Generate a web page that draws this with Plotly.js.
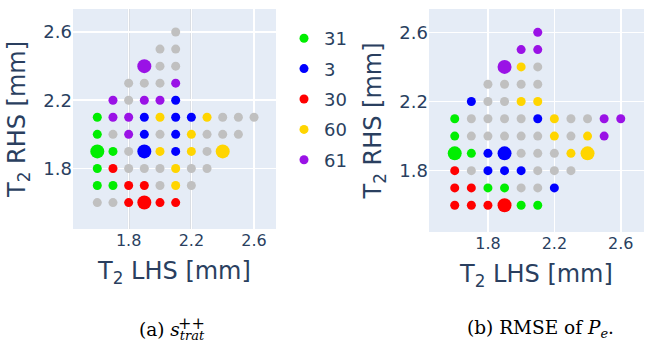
<!DOCTYPE html>
<html>
<head>
<meta charset="utf-8">
<script src="https://cdn.plot.ly/plotly-3.0.1.min.js"></script>
<style>html,body{margin:0;padding:0;background:#fff;}#chart{width:647px;height:344px;}</style>
</head>
<body>
<div id="chart"></div>
<script>
// ---- data: left panel (a) ----
var groupNames = ['31', '3', '30', '60', '61'];
var groupColors = ['#00ee00', '#0000ff', '#ff0000', '#ffd500', '#9a12e6'];
var otherColor = '#c0c0c0';

var aX31 = [1.6, 1.6, 1.7, 1.6, 1.6, 1.7];
var aY31 = [2.1, 2.0, 1.9, 1.8, 1.7, 1.7];
var aX3 = [2.1, 1.9, 2.1, 2.2, 1.9, 2.1, 2.1];
var aY3 = [2.2, 2.1, 2.1, 2.1, 2.0, 2.0, 1.9];
var aX30 = [1.7, 1.8, 1.9, 1.8, 2.0, 2.1];
var aY30 = [1.8, 1.7, 1.7, 1.6, 1.6, 1.6];
var aX60 = [2.0, 2.3, 2.2, 2.0, 2.2, 2.1, 2.1];
var aY60 = [2.1, 2.1, 2.0, 1.9, 1.9, 1.8, 1.7];
var aX61 = [2.1, 1.7, 1.9, 2.0, 1.7, 1.8, 1.8];
var aY61 = [2.3, 2.2, 2.2, 2.2, 2.1, 2.1, 2.0];
var aXOther = [2.1, 2.0, 2.1, 2.0, 2.1, 1.8, 1.9, 2.0, 1.8, 2.4, 2.5, 2.6, 1.7, 2.0, 2.3, 2.4, 2.5, 1.8, 2.3, 1.8, 1.9, 2.0, 2.2, 2.3, 2.0, 2.2, 1.6, 1.7];
var aYOther = [2.6, 2.5, 2.5, 2.4, 2.4, 2.3, 2.3, 2.3, 2.2, 2.1, 2.1, 2.1, 2.0, 2.0, 2.0, 2.0, 2.0, 1.9, 1.9, 1.8, 1.8, 1.8, 1.8, 1.8, 1.7, 1.7, 1.6, 1.6];
// group centres (large markers), order = groupNames
var aXCentre = [1.6, 1.9, 1.9, 2.4, 1.9];
var aYCentre = [1.9, 1.9, 1.6, 1.9, 2.4];

// ---- data: right panel (b) ----
var bX31 = [1.6, 1.6, 1.7, 1.8, 1.9, 2.0, 2.1];
var bY31 = [2.1, 2.0, 1.9, 1.7, 1.7, 1.6, 1.6];
var bX3 = [1.7, 2.1, 1.8, 1.8, 1.9, 2.0, 2.2];
var bY3 = [2.2, 2.1, 1.9, 1.8, 1.8, 1.8, 1.7];
var bX30 = [1.6, 1.6, 1.7, 1.6, 1.7, 1.8];
var bY30 = [1.8, 1.7, 1.7, 1.6, 1.6, 1.6];
var bX60 = [2.0, 2.0, 2.1, 2.2, 2.2, 2.4, 2.3];
var bY60 = [2.4, 2.2, 2.2, 2.1, 2.0, 2.0, 1.9];
var bX61 = [2.1, 2.0, 2.1, 2.5, 2.6, 2.5];
var bY61 = [2.6, 2.5, 2.5, 2.1, 2.1, 2.0];
var bXOther = [2.1, 1.8, 1.9, 2.0, 2.1, 1.8, 1.9, 1.7, 1.8, 1.9, 2.0, 2.3, 2.4, 1.7, 1.8, 1.9, 2.0, 2.1, 2.3, 2.0, 2.1, 2.2, 1.7, 2.1, 2.2, 2.3, 2.0, 2.1];
var bYOther = [2.4, 2.3, 2.3, 2.3, 2.3, 2.2, 2.2, 2.1, 2.1, 2.1, 2.1, 2.1, 2.1, 2.0, 2.0, 2.0, 2.0, 2.0, 2.0, 1.9, 1.9, 1.9, 1.8, 1.8, 1.8, 1.8, 1.7, 1.7];
var bXCentre = [1.6, 1.9, 1.9, 2.4, 1.9];
var bYCentre = [1.9, 1.9, 1.6, 1.9, 2.4];

var tickValues = [1.8, 2.2, 2.6];
var tickLabels = ['1.8', '2.2', '2.6'];
var xTitle = 'T<sub>2</sub> LHS [mm]';
var yTitle = 'T<sub>2</sub> RHS [mm]';
var captionA = '(a) <i>s</i><sub><i>trat</i></sub>';
var captionASup = '++';
var captionB = '(b) RMSE of <i>P</i><sub><i>e</i></sub>.';

// ---- build ----
var W = 647, H = 344;
var SMALL = 9, BIG = 14;
var panels = [
  {xa: 'x', ya: 'y', other: [aXOther, aYOther], groups: [[aX31, aY31], [aX3, aY3], [aX30, aY30], [aX60, aY60], [aX61, aY61]], centre: [aXCentre, aYCentre], legend: true},
  {xa: 'x2', ya: 'y2', other: [bXOther, bYOther], groups: [[bX31, bY31], [bX3, bY3], [bX30, bY30], [bX60, bY60], [bX61, bY61]], centre: [bXCentre, bYCentre], legend: false}
];
var traces = [];
panels.forEach(function (p) {
  traces.push({type: 'scatter', mode: 'markers', x: p.other[0], y: p.other[1], xaxis: p.xa, yaxis: p.ya,
    marker: {color: otherColor, size: SMALL}, showlegend: false, hoverinfo: 'x+y'});
  p.groups.forEach(function (g, i) {
    traces.push({type: 'scatter', mode: 'markers', x: g[0], y: g[1], xaxis: p.xa, yaxis: p.ya,
      name: groupNames[i], legendgroup: groupNames[i], showlegend: p.legend,
      marker: {color: groupColors[i], size: SMALL}});
  });
  traces.push({type: 'scatter', mode: 'markers', x: p.centre[0], y: p.centre[1], xaxis: p.xa, yaxis: p.ya,
    marker: {color: groupColors, size: BIG}, showlegend: false});
});

var fontCol = '#2a3f5f';
var fam = 'DejaVu Sans, Verdana, sans-serif';
var serif = 'DejaVu Serif, serif';
function xaxis(dom, anchor) {
  return {domain: dom, anchor: anchor, range: [1.445, 2.74], tickvals: tickValues, ticktext: tickLabels,
    showgrid: true, gridcolor: '#ffffff', gridwidth: 1.5, zeroline: false, showline: false, ticks: '',
    tickfont: {size: 16, color: fontCol, family: fam},
    title: {text: xTitle, font: {size: 24, color: fontCol, family: fam}, standoff: 13}};
}
function yaxis(dom, anchor) {
  return {domain: dom, anchor: anchor, range: [1.445, 2.735], tickvals: tickValues, ticktext: tickLabels,
    showgrid: true, gridcolor: '#ffffff', gridwidth: 1.5, zeroline: false, showline: false, ticks: '',
    tickfont: {size: 18, color: fontCol, family: fam},
    title: {text: yTitle, font: {size: 24, color: fontCol, family: fam}, standoff: 10}};
}
// grey grid lines seen in panel (a) at the first two x ticks and the top y tick
var greyLine = {color: '#c9c9c9', width: 1.5};
var shapes = [
  {type: 'line', layer: 'below', xref: 'x', yref: 'y domain', x0: tickValues[0], x1: tickValues[0], y0: 0, y1: 1, line: greyLine},
  {type: 'line', layer: 'below', xref: 'x', yref: 'y domain', x0: tickValues[1], x1: tickValues[1], y0: 0, y1: 1, line: greyLine},
  {type: 'line', layer: 'below', xref: 'x domain', yref: 'y', x0: 0, x1: 1, y0: tickValues[2], y1: tickValues[2], line: greyLine}
];
var layout = {
  width: W, height: H, margin: {l: 0, r: 0, t: 0, b: 0},
  paper_bgcolor: '#ffffff', plot_bgcolor: '#e5ecf6',
  font: {family: fam, color: fontCol},
  xaxis: xaxis([73 / W, 276 / W], 'y'),
  yaxis: yaxis([1 - 229 / H, 1 - 9 / H], 'x'),
  xaxis2: xaxis([429 / W, 644 / W], 'y2'),
  yaxis2: yaxis([1 - 232 / H, 1 - 9 / H], 'x2'),
  shapes: shapes,
  legend: {x: 284 / W, y: 1 - 20 / H, xanchor: 'left', yanchor: 'top', bgcolor: 'rgba(0,0,0,0)',
    font: {size: 18, color: fontCol, family: fam}, tracegroupgap: 4},
  annotations: [
    {xref: 'paper', yref: 'paper', x: 172 / W, y: 1 - 331 / H, xanchor: 'center', yanchor: 'middle',
      text: captionA, showarrow: false, font: {family: serif, size: 18.5, color: '#000'}},
    {xref: 'paper', yref: 'paper', x: 191 / W, y: 1 - 323 / H, xanchor: 'center', yanchor: 'middle',
      text: captionASup, showarrow: false, font: {family: serif, size: 16, color: '#000'}},
    {xref: 'paper', yref: 'paper', x: 540 / W, y: 1 - 329 / H, xanchor: 'center', yanchor: 'middle',
      text: captionB, showarrow: false, font: {family: serif, size: 18.5, color: '#000'}}
  ]
};
Plotly.newPlot('chart', traces, layout, {displayModeBar: false, staticPlot: true});
</script>
</body>
</html>
